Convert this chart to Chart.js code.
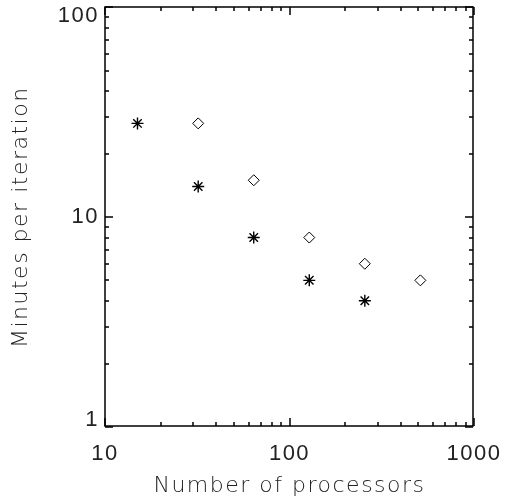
<!DOCTYPE html>
<html>
<head>
<meta charset="utf-8">
<script src="https://cdn.jsdelivr.net/npm/chart.js@4.4.1/dist/chart.umd.min.js"></script>
<style>
  html, body { margin: 0; padding: 0; background: #fff; }
  canvas { display: block; }
</style>
</head>
<body>
<canvas id="chart" width="505" height="503"></canvas>
<script>
// run with the asterisk markers
const procsStar = [15, 32, 64, 128, 256];
const minsStar = [28, 14, 8, 5, 4];
// run with the diamond markers
const procsDiamond = [32, 64, 128, 256, 512];
const minsDiamond = [28, 15, 8, 6, 5];

// tick marks (majors get labels)
const xMajor = [10, 100, 1000];
const xMinor = [20, 30, 40, 50, 60, 70, 80, 90, 200, 300, 400, 500, 600, 700, 800, 900];
const yMajor = [1, 10, 100];
const yMinor = [2, 3, 4, 5, 6, 7, 8, 9, 20, 30, 40, 50, 60, 70, 80, 90];

const textColor = '#222';
const titleFont = { family: 'DejaVu Sans', size: 22, weight: 200, lineHeight: 1.2 };

// IDL keeps the end labels of the y axis inside the box
function yTickFont(c) {
  const v = c.tick ? c.tick.value : 0;
  let lh = '26px';
  if (v === 100) lh = '18px';
  if (v === 1) lh = '15px';
  return { family: 'Liberation Sans', size: 22, lineHeight: lh };
}

// IDL style box with inward ticks on all four sides
const frame = {
  id: 'frame',
  beforeDraw(chart) {
    chart.ctx.letterSpacing = '1.5px';
  },
  afterDraw(chart) {
    const ctx = chart.ctx;
    const a = chart.chartArea;
    const xs = chart.scales.x, ys = chart.scales.y;
    const L = Math.round(a.left), R = Math.round(a.right) - 1;
    const T = Math.round(a.top), B = Math.round(a.bottom) - 1;
    ctx.save();
    ctx.strokeStyle = '#000';
    ctx.lineWidth = 1.5;
    ctx.strokeRect(L, T, R - L, B - T);
    ctx.beginPath();
    xMajor.concat(xMinor).forEach(v => {
      const len = xMajor.includes(v) ? 8 : 4;
      const p = Math.round(xs.getPixelForValue(v));
      ctx.moveTo(p, B); ctx.lineTo(p, B - len);
      ctx.moveTo(p, T); ctx.lineTo(p, T + len);
    });
    yMajor.concat(yMinor).forEach(v => {
      const len = yMajor.includes(v) ? 8 : 4;
      const p = Math.round(ys.getPixelForValue(v));
      ctx.moveTo(L, p); ctx.lineTo(L + len, p);
      ctx.moveTo(R, p); ctx.lineTo(R - len, p);
    });
    ctx.stroke();
    ctx.restore();
  }
};

new Chart(document.getElementById('chart'), {
  type: 'scatter',
  data: {
    datasets: [
      {
        data: procsStar.map((p, i) => ({ x: p, y: minsStar[i] })),
        pointStyle: 'star',
        pointRadius: 6,
        borderWidth: 1.4,
        borderColor: '#000',
        backgroundColor: '#000'
      },
      {
        data: procsDiamond.map((p, i) => ({ x: p, y: minsDiamond[i] })),
        pointStyle: 'rectRot',
        pointRadius: 5.5,
        borderWidth: 1,
        borderColor: '#000',
        backgroundColor: 'rgba(0,0,0,0)'
      }
    ]
  },
  options: {
    responsive: false,
    animation: false,
    layout: { padding: { left: 0, right: 31, top: 6, bottom: 0 } },
    plugins: { legend: { display: false }, tooltip: { enabled: false } },
    scales: {
      x: {
        type: 'logarithmic',
        min: 10,
        max: 1000,
        grid: { display: false, drawTicks: false },
        border: { display: false },
        afterBuildTicks: s => { s.ticks = xMajor.map(v => ({ value: v })); },
        ticks: {
          autoSkip: false,
          maxRotation: 0,
          padding: 14,
          color: textColor,
          font: { family: 'Liberation Sans', size: 22, lineHeight: 1.2 },
          callback: v => String(v)
        },
        title: {
          display: true,
          text: 'Number of processors',
          color: textColor,
          font: titleFont,
          padding: { top: 0, bottom: 4 }
        },
        afterFit: s => { s.height = 76; s.paddingLeft = 0; s.paddingRight = 0; }
      },
      y: {
        type: 'logarithmic',
        min: 1,
        max: 100,
        grid: { display: false, drawTicks: false },
        border: { display: false },
        afterBuildTicks: s => { s.ticks = yMajor.map(v => ({ value: v })); },
        ticks: {
          autoSkip: false,
          padding: 6,
          color: textColor,
          font: yTickFont,
          callback: v => (v === 100 ? ['', '100'] : v === 1 ? ['1', ''] : String(v))
        },
        title: {
          display: true,
          text: 'Minutes per iteration',
          color: textColor,
          font: titleFont,
          padding: { top: 8, bottom: 0 }
        },
        afterFit: s => { s.width = 105; s.paddingTop = 0; s.paddingBottom = 0; }
      }
    }
  },
  plugins: [frame]
});
</script>
</body>
</html>
